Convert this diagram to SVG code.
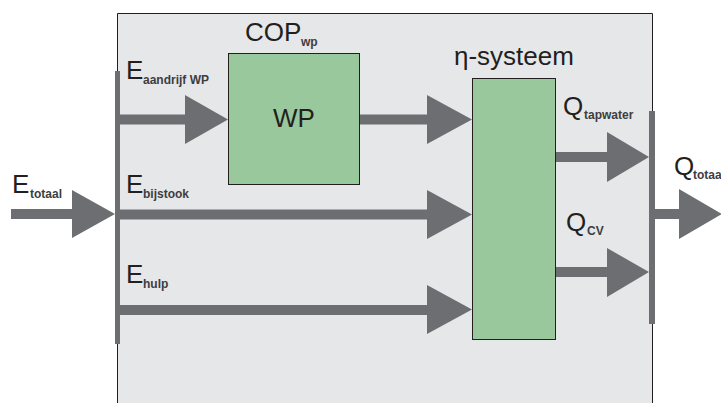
<svg xmlns="http://www.w3.org/2000/svg" width="721" height="403" viewBox="0 0 721 403">
<style>
  .frame { fill: #e6e7e8; stroke: #231f20; stroke-width: 1; }
  .box { fill: #99c89d; stroke: #231f20; stroke-width: 1; }
  .bar { fill: #6d6e71; }
  .shaft { stroke: #6d6e71; stroke-width: 10; fill: none; }
  .head { fill: #6d6e71; }
  .t { font-family: "Liberation Sans", Arial, sans-serif; font-size: 26px; fill: #231f20; }
  .s { font-family: "Liberation Sans", Arial, sans-serif; font-size: 12px; font-weight: bold; fill: #3d3d3f; }
</style>
<rect width="721" height="403" fill="#ffffff"/>
<g id="frame">
  <path class="frame" d="M117.5,404 V13.5 H652.5 V404"/>
</g>
<g id="connectors">
  <rect class="bar" x="115" y="71" width="5" height="273"/>
  <rect class="bar" x="649" y="111" width="6" height="213"/>
  <!-- E totaal -->
  <line class="shaft" x1="11" y1="214" x2="73" y2="214"/>
  <polygon class="head" points="72,190 115,214 72,238"/>
  <!-- E aandrijf WP -->
  <line class="shaft" x1="119" y1="119.5" x2="186" y2="119.5"/>
  <polygon class="head" points="185,95 228,119.5 185,144"/>
  <!-- WP to eta -->
  <line class="shaft" x1="360" y1="119.5" x2="428" y2="119.5"/>
  <polygon class="head" points="427,95 472,119.5 427,144"/>
  <!-- E bijstook -->
  <line class="shaft" x1="119" y1="214.5" x2="428" y2="214.5"/>
  <polygon class="head" points="427,190 472,214.5 427,239"/>
  <!-- E hulp -->
  <line class="shaft" x1="119" y1="310" x2="428" y2="310"/>
  <polygon class="head" points="427,285 472,309.5 427,334"/>
  <!-- Q tapwater -->
  <line class="shaft" x1="556" y1="157" x2="608" y2="157"/>
  <polygon class="head" points="607,132 649,157 607,182"/>
  <!-- Q CV -->
  <line class="shaft" x1="556" y1="272" x2="608" y2="272"/>
  <polygon class="head" points="607,248 649,272 607,297"/>
  <!-- Q totaal -->
  <line class="shaft" x1="655" y1="214" x2="680" y2="214"/>
  <polygon class="head" points="679,189 722,214 679,239"/>
</g>
<g id="wp">
  <rect class="box" x="228.5" y="53.5" width="131" height="131"/>
  <text class="t" x="294" y="127" text-anchor="middle">WP</text>
  <text class="t" x="245" y="41">COP<tspan class="s" x="301" y="46">wp</tspan></text>
</g>
<g id="eta">
  <rect class="box" x="472.5" y="78.5" width="83" height="261"/>
  <text class="t" x="454" y="65">η-systeem</text>
</g>
<g id="labels">
  <text class="t" x="12" y="193">E<tspan class="s" x="30" y="198">totaal</tspan></text>
  <text class="t" x="126" y="79">E<tspan class="s" x="143" y="84">aandrijf WP</tspan></text>
  <text class="t" x="126" y="193">E<tspan class="s" x="143" y="198">bijstook</tspan></text>
  <text class="t" x="126" y="283">E<tspan class="s" x="143" y="288">hulp</tspan></text>
  <text class="t" x="563" y="115">Q<tspan class="s" x="584" y="119">tapwater</tspan></text>
  <text class="t" x="566" y="231">Q<tspan class="s" x="587" y="235">CV</tspan></text>
  <text class="t" x="674" y="175">Q<tspan class="s" x="693" y="179">totaal</tspan></text>
</g>
</svg>
